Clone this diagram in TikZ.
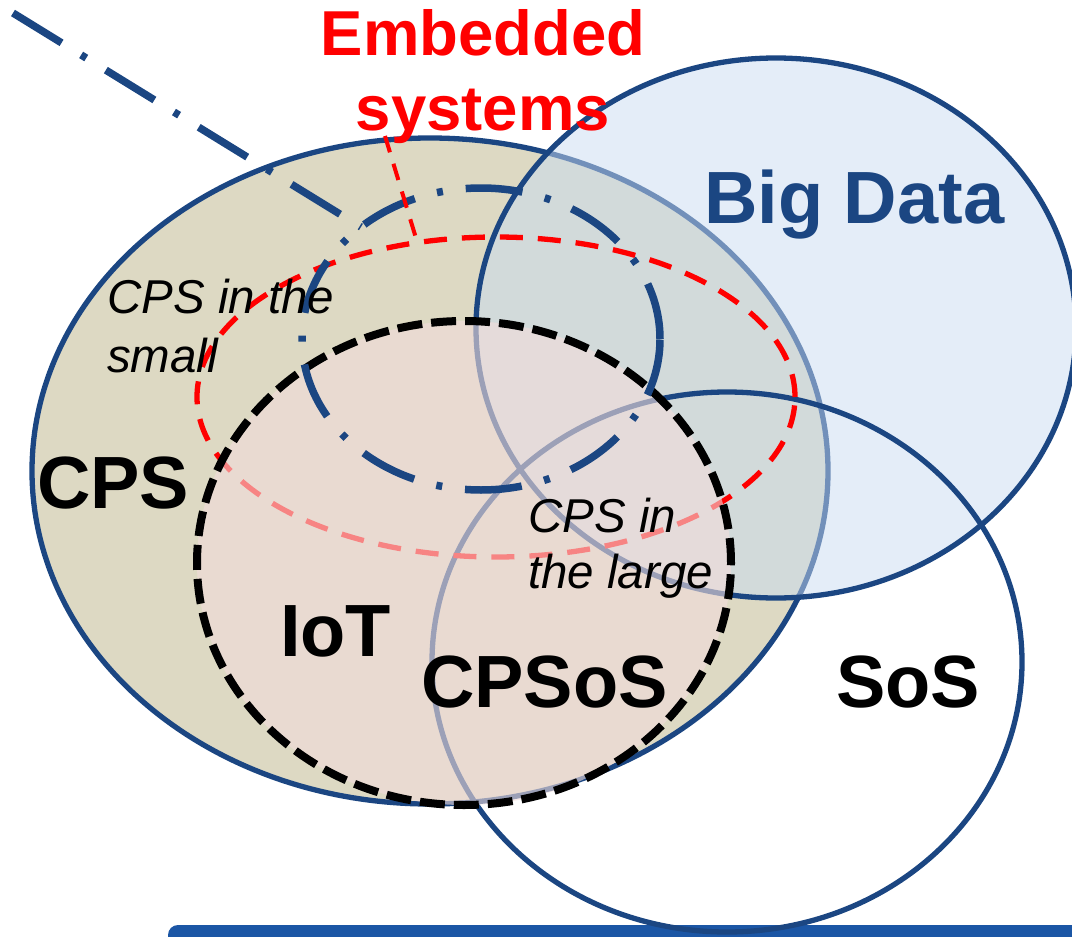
\documentclass[tikz,border=0pt]{standalone}
\usepackage{fontspec}
\setmainfont{Liberation Sans}
\usetikzlibrary{shapes.geometric}
\definecolor{cpsfill}{HTML}{DDD9C3}
\definecolor{bdfill}{HTML}{C9DBF2}
\definecolor{iotfill}{HTML}{F2DCDB}
\definecolor{navy}{HTML}{1B4682}
\definecolor{barblue}{HTML}{1B56A5}
\definecolor{esred}{HTML}{FF0000}
\begin{document}
\begin{tikzpicture}[x=1pt,y=-1pt,
  setshape/.style={ellipse, inner sep=0pt, outer sep=0pt},
  navyline/.style={draw=navy, line width=5.3pt},
  dashdotline/.style={draw=navy, line width=7.5pt, dash pattern=on 57pt off 23pt on 6pt off 23pt},
  reddash/.style={draw=esred, line width=5.3pt, dash pattern=on 23pt off 15pt},
  blackdash/.style={draw=black, line width=8pt, dash pattern=on 25pt off 9pt},
  bigtxt/.style={font=\fontsize{74}{80}\selectfont\bfseries, inner sep=0pt, anchor=base west},
  smalltxt/.style={inner sep=0pt, align=left, anchor=base west}
]
\useasboundingbox (0,0) rectangle (1072,937);
\begin{scope}
\clip (0,0) rectangle (1072,937);
% bottom bar
\fill[barblue, rounded corners=10pt] (168,960) -- (168,925) -- (1100,925) -- (1100,960) -- cycle;
% CPS
\node[setshape, fill=cpsfill, navyline, minimum width=796pt, minimum height=666pt] (cps) at (430,471) {};
% Big Data
\node[setshape, fill=bdfill, fill opacity=0.5, draw opacity=1, navyline, minimum width=600pt, minimum height=540pt] (bd) at (776,328) {};
% SoS
\node[setshape, navyline, minimum width=590pt, minimum height=540pt] (sos) at (727,662) {};
% CPS in the small (red)
\node[setshape, reddash, minimum width=598pt, minimum height=320pt] (red) at (496,397) {};
% IoT
\node[setshape, fill=iotfill, fill opacity=0.6, draw opacity=1, blackdash, minimum width=534pt, minimum height=484pt] (iot) at (464,563) {};
% Embedded systems (blue dash-dot)
\node[setshape, dashdotline, minimum width=358pt, minimum height=302pt] (emb) at (481,339) {};
\coordinate (dl) at (13,13);
\draw[dashdotline] (dl) -- (emb.137);
\coordinate (es) at (385,136);
\draw[draw=esred, line width=4pt, dash pattern=on 17pt off 12pt] (es) -- (red.117);
\end{scope}
% labels
\node[bigtxt] (tcps) at (37,508) {CPS};
\node[bigtxt] (tiot) at (280,656) {IoT};
\node[bigtxt] (tcpsos) at (421,707) {CPSoS};
\node[bigtxt] (tsos) at (836,707) {SoS};
\node[bigtxt, text=navy] (tbd) at (704,223) {Big Data};
\node[smalltxt, font=\fontsize{47.5}{59}\selectfont\itshape] (tsmall) at (107,372) {CPS in the\\small};
\node[smalltxt, font=\fontsize{47.5}{56}\selectfont\itshape] (tlarge) at (528,588) {CPS in\\the large};
\node[inner sep=0pt, align=center, anchor=base, text=esred, font=\fontsize{63.5}{75}\selectfont\bfseries] (tes) at (483,130) {Embedded\\systems};
\end{tikzpicture}
\end{document}
